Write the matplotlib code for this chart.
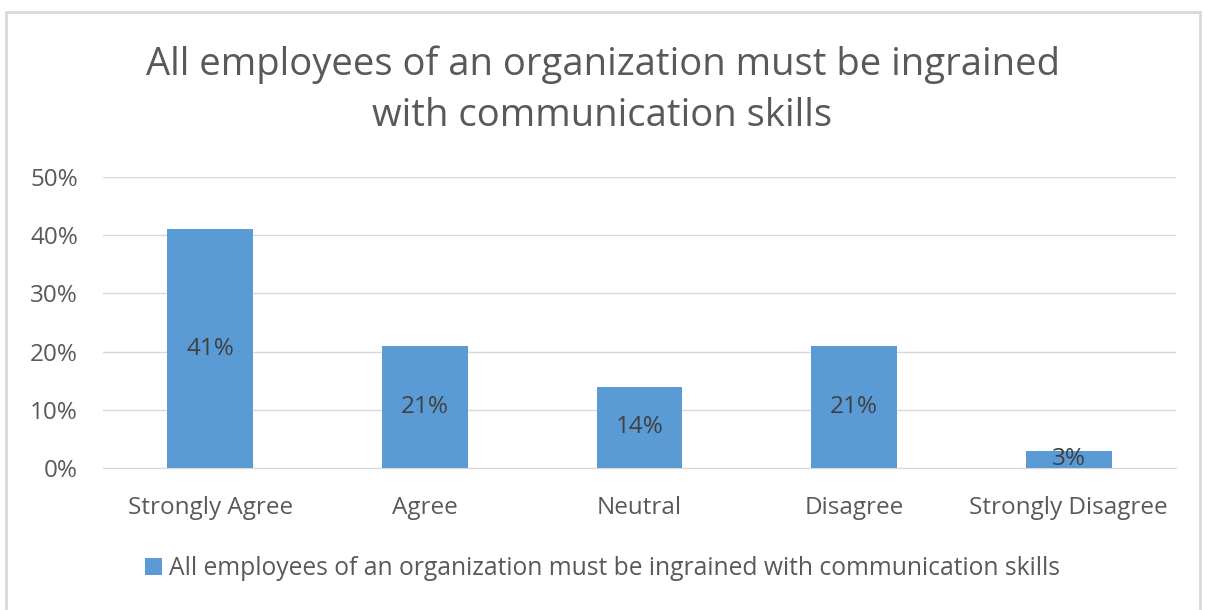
import matplotlib.pyplot as plt
from matplotlib.patches import Rectangle
from matplotlib.ticker import PercentFormatter

plt.rcParams['font.family'] = ['Open Sans', 'DejaVu Sans']

# survey responses
categories = ['Strongly Agree', 'Agree', 'Neutral', 'Disagree', 'Strongly Disagree']
values = [41, 21, 14, 21, 3]
series_name = 'All employees of an organization must be ingrained with communication skills'

bar_color = '#5B9BD5'
text_color = '#595959'

fig = plt.figure(figsize=(12.05, 6.1), dpi=100)
ax = fig.add_axes([0.0855, 0.2328, 0.8905, 0.477])

bars = ax.bar(range(len(categories)), values, width=0.4, color=bar_color,
              label=series_name, zorder=3)
ax.bar_label(bars, labels=[f'{v}%' for v in values], label_type='center',
             fontsize=17.5, color='#404040')

ax.set_xlim(-0.5, len(categories) - 0.5)
ax.set_ylim(0, 50)
ax.set_yticks(range(0, 51, 10))
ax.yaxis.set_major_formatter(PercentFormatter(decimals=0))
ax.set_xticks(range(len(categories)))
ax.set_xticklabels(categories)
ax.tick_params(axis='both', length=0, labelsize=17.5, labelcolor=text_color)
ax.tick_params(axis='x', pad=20)
ax.tick_params(axis='y', pad=18)
ax.grid(axis='y', color='#d9d9d9', linewidth=1, zorder=0)
for side in ['top', 'right', 'left']:
    ax.spines[side].set_visible(False)
ax.spines['bottom'].set_color('#d9d9d9')

fig.suptitle('All employees of an organization must be ingrained\nwith communication skills',
             y=0.925, fontsize=27.5, color=text_color, linespacing=1.45)

fig.legend(loc='center', bbox_to_anchor=(0.5, 0.068), frameon=False, fontsize=17.7,
           labelcolor=text_color, handlelength=0.7, handleheight=0.7, handletextpad=0.3)

# chart border
fig.patches.append(Rectangle((6 / 1205, -0.05), 1194 / 1205, 1.04 - 6 / 610,
                             transform=fig.transFigure, fill=False,
                             edgecolor='#d9d9d9', linewidth=2))

fig.savefig('out.png', dpi=100)
